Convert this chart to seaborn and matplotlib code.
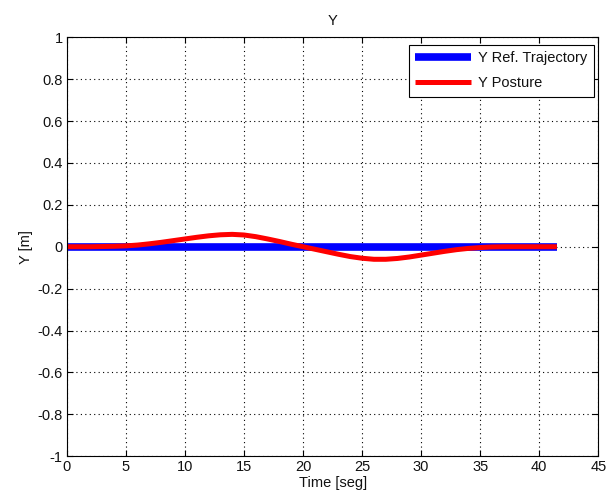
import numpy as np
import pandas as pd
import matplotlib
matplotlib.use("Agg")
import matplotlib.pyplot as plt
import seaborn as sns

t_ref = [0, 41.5]
y_ref = [0, 0]

t_post = [0, 2, 4, 5, 6, 7, 8, 9, 10, 11, 12, 13, 14, 15, 16, 17, 18, 19, 20,
          21, 22, 23, 24, 25, 26, 27, 28, 29, 30, 31, 32, 33, 34, 35, 36, 37, 38, 40, 41.5]
y_post = [0, 0, 0.002, 0.004, 0.008, 0.014, 0.021, 0.029, 0.037, 0.045, 0.052, 0.057,
          0.059, 0.056, 0.048, 0.037, 0.025, 0.012, 0.0, -0.012, -0.024, -0.036, -0.047,
          -0.055, -0.060, -0.060, -0.056, -0.049, -0.040, -0.031, -0.022, -0.014, -0.008,
          -0.004, -0.001, 0, 0, 0, 0]

x_ticks = [0, 5, 10, 15, 20, 25, 30, 35, 40, 45]
y_ticks = [-1, -0.8, -0.6, -0.4, -0.2, 0, 0.2, 0.4, 0.6, 0.8, 1]
y_labels = ["-1", "-0.8", "-0.6", "-0.4", "-0.2", "0", "0.2", "0.4", "0.6", "0.8", "1"]

sns.set_style("white")
plt.rcParams["font.family"] = ["Liberation Sans Narrow", "Liberation Sans", "DejaVu Sans"]

fig = plt.figure(figsize=(6.08, 5.03), dpi=100)
ax = fig.add_axes([0.110, 0.093, 0.874, 0.833])

ref_df = pd.DataFrame({"t": t_ref, "y": y_ref})
post_df = pd.DataFrame({"t": t_post, "y": y_post})
sns.lineplot(data=ref_df, x="t", y="y", ax=ax, color="#0000ff", linewidth=5.5,
             label="Y Ref. Trajectory", solid_capstyle="butt")
sns.lineplot(data=post_df, x="t", y="y", ax=ax, color="#ff0000", linewidth=3.6,
             label="Y Posture", solid_capstyle="butt")

fs = 10.5
ax.set_xlim(0, 45)
ax.set_ylim(-1, 1)
ax.set_xticks(x_ticks)
ax.set_yticks(y_ticks)
ax.set_yticklabels(y_labels)
ax.grid(True, color="black", linestyle=(0, (1, 3)), linewidth=0.8)
ax.tick_params(direction="in", length=4, labelsize=fs, top=True, right=True,
               bottom=True, left=True, width=0.8, color="black", labelcolor="#111111",
               pad=3)
for s in ax.spines.values():
    s.set_color("black")
    s.set_linewidth(0.8)
ax.set_xlabel("Time [seg]", fontsize=fs, labelpad=1, color="#111111")
ax.set_ylabel("Y [m]", fontsize=fs, labelpad=3, color="#111111")
ax.set_title("Y", fontsize=fs, pad=9, color="#111111")
leg = ax.legend(loc="upper right", fontsize=fs, frameon=True, fancybox=False,
                edgecolor="black", handlelength=3.8, handletextpad=0.5,
                borderaxespad=0.5, borderpad=0.45, framealpha=1, labelspacing=0.75,
                bbox_to_anchor=(1.005, 1.0))
leg.get_frame().set_linewidth(0.8)
for txt in leg.get_texts():
    txt.set_color("#111111")

fig.savefig("out.png", dpi=100)
